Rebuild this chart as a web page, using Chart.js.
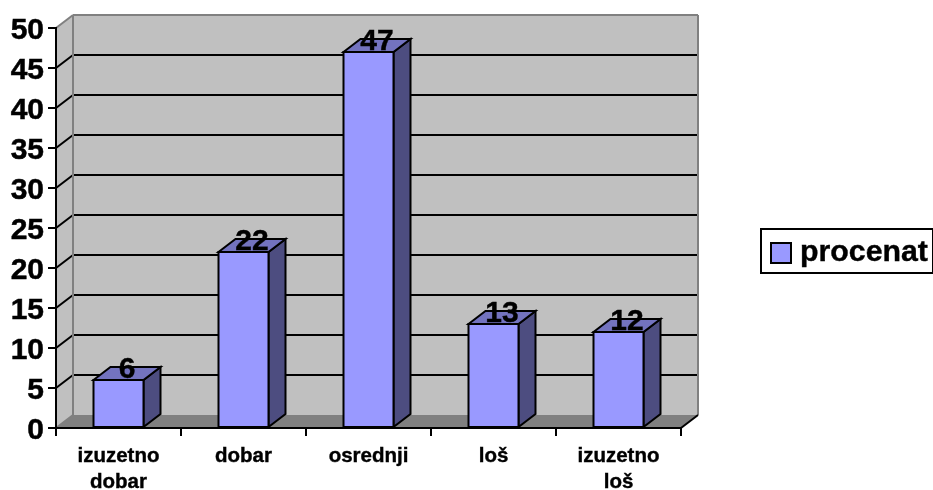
<!DOCTYPE html>
<html>
<head>
<meta charset="utf-8">
<style>html,body{margin:0;padding:0;background:#fff}canvas{display:block}</style>
<script src="https://cdn.jsdelivr.net/npm/chart.js@4"></script>
</head>
<body>
<canvas id="c" width="933" height="490"></canvas>
<script>
const categories = [["izuzetno","dobar"],["dobar"],["osrednji"],["loš"],["izuzetno","loš"]];
const values = [6,22,47,13,12];
const seriesName = "procenat";
const yTicks = {min:0,max:50,step:5};
const FONT = '"Liberation Sans", Arial, sans-serif';
const DX = 17, DY = -13;

function poly(ctx, pts, fill, stroke, lw){
  ctx.beginPath();
  pts.forEach((p,i)=> i?ctx.lineTo(p[0],p[1]):ctx.moveTo(p[0],p[1]));
  ctx.closePath();
  if(fill){ctx.fillStyle=fill;ctx.fill();}
  if(stroke){ctx.strokeStyle=stroke;ctx.lineWidth=lw||2;ctx.lineJoin='miter';ctx.stroke();}
}
function line(ctx,x1,y1,x2,y2,c,lw){
  ctx.beginPath();ctx.moveTo(x1,y1);ctx.lineTo(x2,y2);ctx.strokeStyle=c;ctx.lineWidth=lw||2;ctx.stroke();
}
function boldText(ctx,s,x,y){
  ctx.lineWidth=0.4;ctx.strokeStyle='#000';ctx.fillStyle='#000';
  ctx.fillText(s,x,y);ctx.strokeText(s,x,y);
}
const scene = {
  id:'scene3d',
  beforeDraw(chart){
    const {ctx,chartArea:a,scales:{y}}=chart;
    ctx.save();
    const L=a.left,R=a.right,T=a.top,B=a.bottom;
    poly(ctx,[[L+DX,T+DY],[R+DX,T+DY],[R+DX,B+DY],[L+DX,B+DY]],'#C0C0C0');
    poly(ctx,[[L,B],[L,T],[L+DX,T+DY],[L+DX,B+DY]],'#C0C0C0');
    poly(ctx,[[L,B],[R,B],[R+DX,B+DY],[L+DX,B+DY]],'#808080');
    y.ticks.forEach(t=>{
      const py=y.getPixelForValue(t.value);
      if(t.value>yTicks.min && t.value<yTicks.max){
        line(ctx,L,py,L+DX,py+DY,'#000');
        line(ctx,L+DX,py+DY,R+DX,py+DY,'#000');
      }
    });
    line(ctx,L,T,L+DX,T+DY,'#808080');
    line(ctx,L+DX,T+DY,R+DX,T+DY,'#808080');
    line(ctx,L+DX,T+DY,L+DX,B+DY,'#808080');
    line(ctx,R+DX,T+DY,R+DX,B+DY,'#808080');
    line(ctx,L,B,L+DX,B+DY,'#808080');
    line(ctx,R,B,R+DX,B+DY,'#000');
    ctx.restore();
  },
  beforeDatasetsDraw(chart){
    const {ctx}=chart;
    ctx.save();
    chart.getDatasetMeta(0).data.forEach(b=>{
      const p=b.getProps(['x','y','base','width'],true);
      const l=p.x-p.width/2,r=p.x+p.width/2;
      poly(ctx,[[r,p.y],[r+DX,p.y+DY],[r+DX,p.base+DY],[r,p.base]],'#4D4D80','#000');
      poly(ctx,[[l,p.y],[l+DX,p.y+DY],[r+DX,p.y+DY],[r,p.y]],'#7373BF','#000');
    });
    ctx.restore();
  },
  afterDatasetsDraw(chart){
    const {ctx}=chart;
    ctx.save();
    chart.getDatasetMeta(0).data.forEach(b=>{
      const p=b.getProps(['x','y','base','width'],true);
      const l=p.x-p.width/2,r=p.x+p.width/2;
      poly(ctx,[[l,p.y],[r,p.y],[r,p.base],[l,p.base]],null,'#000');
    });
    ctx.restore();
  },
  afterDraw(chart){
    const {ctx}=chart;
    ctx.save();
    ctx.font='bold 30px '+FONT;
    ctx.textAlign='center';ctx.textBaseline='middle';
    chart.getDatasetMeta(0).data.forEach((b,i)=>{
      const p=b.getProps(['x','y'],true);
      boldText(ctx,String(values[i]),p.x+DX/2,p.y+DY+3);
    });
    // legend
    ctx.strokeStyle='#000';ctx.lineWidth=2;
    ctx.strokeRect(761,229,172,44);
    ctx.fillStyle='#9999FF';ctx.fillRect(771,243,20,20);ctx.strokeRect(771,243,20,20);
    ctx.font='bold 30.3px '+FONT;
    ctx.textAlign='left';
    boldText(ctx,seriesName,800,253);
    ctx.restore();
  }
};
function shiftLabels(dy){
  return function(s){
    if(s._wrapped) return;
    s._wrapped=true;
    const orig=s._computeLabelItems;
    s._computeLabelItems=function(a){
      const items=orig.call(this,a);
      items.forEach(i=>{i.options.translation=[i.options.translation[0],i.options.translation[1]+dy];});
      return items;
    };
  };
}
new Chart(document.getElementById('c'),{
  type:'bar',
  data:{labels:categories,datasets:[{label:seriesName,data:values,backgroundColor:'#9999FF',borderWidth:0,barPercentage:0.4,categoryPercentage:1}]},
  plugins:[scene],
  options:{
    responsive:false,animation:false,
    layout:{padding:{left:0,right:252,top:28,bottom:0}},
    plugins:{legend:{display:false},tooltip:{enabled:false}},
    scales:{
      x:{
        afterFit(s){s.height=62;},
        grid:{drawOnChartArea:false,color:'#000',lineWidth:2,tickLength:8,tickColor:'#000',offset:true},
        border:{color:'#000',width:2},
        ticks:{color:'#000',maxRotation:0,minRotation:0,autoSkip:false,padding:8,textStrokeColor:'#000',textStrokeWidth:0.4,font:{family:FONT,size:20.5,weight:'bold',lineHeight:1.25}}
      },
      y:{
        min:yTicks.min,max:yTicks.max,
        beforeUpdate:shiftLabels(3),
        afterFit(s){s.width=56;},
        grid:{drawOnChartArea:false,color:'#000',lineWidth:2,tickLength:8,tickColor:'#000'},
        border:{color:'#000',width:2},
        ticks:{stepSize:yTicks.step,color:'#000',padding:4,textStrokeColor:'#000',textStrokeWidth:0.5,font:{family:FONT,size:30,weight:'bold'}}
      }
    }
  }
});
</script>
</body>
</html>
